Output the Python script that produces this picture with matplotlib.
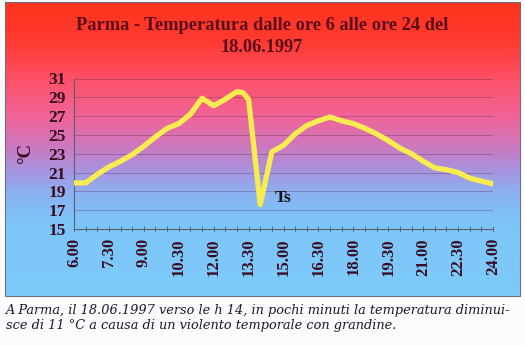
import numpy as np
import matplotlib
matplotlib.use("Agg")
import matplotlib.pyplot as plt
from matplotlib.colors import LinearSegmentedColormap
from matplotlib.patches import Rectangle

# Temperature readings in Parma, 18.06.1997 (hour of day, degrees C)
hours = [6.0, 6.5, 7.0, 7.5, 8.0, 8.5, 9.0, 9.5, 10.0, 10.5, 11.0, 11.5,
         12.0, 12.5, 13.0, 13.25, 13.5, 14.0, 14.5, 15.0, 15.5, 16.0, 16.5,
         17.0, 17.5, 18.0, 18.5, 19.0, 19.5, 20.0, 20.5, 21.0, 21.5, 22.0,
         22.5, 23.0, 23.5, 24.0]
temps = [19.9, 19.9, 20.8, 21.6, 22.2, 22.9, 23.8, 24.8, 25.7, 26.2, 27.2, 28.9,
         28.1, 28.8, 29.6, 29.5, 28.8, 17.6, 23.2, 23.9, 25.1, 26.0, 26.5,
         26.9, 26.5, 26.2, 25.7, 25.1, 24.4, 23.6, 23.0, 22.2, 21.5, 21.3,
         21.0, 20.4, 20.1, 19.8]

x_tick_pos = [6.0, 7.5, 9.0, 10.5, 12.0, 13.5, 15.0, 16.5, 18.0, 19.5, 21.0, 22.5, 24.0]
x_tick_labels = ["6.00", "7.30", "9.00", "10.30", "12.00", "13.30", "15.00",
                 "16.30", "18.00", "19.30", "21.00", "22.30", "24.00"]
y_ticks = [15, 17, 19, 21, 23, 25, 27, 29, 31]

title = "Parma - Temperatura dalle ore 6 alle ore 24 del\n18.06.1997"
caption = ("A Parma, il 18.06.1997 verso le h 14, in pochi minuti la temperatura diminui-\n"
           "sce di 11 °C a causa di un violento temporale con grandine.")
low_label = "Ts"

W, H = 525, 345
fig = plt.figure(figsize=(W / 100, H / 100), dpi=100)
fig.patch.set_facecolor("#fbfbfb")

# Gradient panel behind the chart
px0, py0, px1, py1 = 5, 2, 520, 296
bg = fig.add_axes([px0 / W, 1 - py1 / H, (px1 - px0) / W, (py1 - py0) / H])
stops = [
    (0.00, (255, 52, 30)),
    (0.13, (255, 58, 48)),
    (0.27, (252, 82, 108)),
    (0.39, (240, 100, 152)),
    (0.49, (205, 120, 190)),
    (0.58, (165, 150, 225)),
    (0.66, (137, 180, 242)),
    (0.75, (124, 197, 248)),
    (1.00, (126, 203, 250)),
]
cmap = LinearSegmentedColormap.from_list(
    "panel", [(p, tuple(c / 255 for c in rgb)) for p, rgb in stops])
grad = np.linspace(0, 1, 300).reshape(-1, 1)
bg.imshow(grad, aspect="auto", cmap=cmap, extent=[0, 1, 1, 0])
bg.set_xlim(0, 1)
bg.set_ylim(1, 0)
bg.axis("off")
fig.patches.append(Rectangle((px0 / W, 1 - py1 / H), (px1 - px0) / W, (py1 - py0) / H,
                             transform=fig.transFigure, fill=False,
                             edgecolor="#6a7080", linewidth=0.8, zorder=5))

# Main plot
ax = fig.add_axes([74 / W, 1 - 229 / H, (493 - 74) / W, (229 - 78.5) / H])
ax.patch.set_alpha(0)
ax.set_xlim(6, 24)
ax.set_ylim(15, 31)

for v in y_ticks[1:]:
    ax.axhline(v, color="#5a3050", linewidth=0.5, alpha=0.5, zorder=1)

ax.plot(hours, temps, color="#f8ec50", linewidth=3.8, solid_joinstyle="round",
        solid_capstyle="round", zorder=3)

ax.text(14.6, 18.3, low_label, fontsize=12.5, fontweight="bold",
        family="Liberation Serif", color="#111111", va="center", ha="left")

for s in ["top", "right"]:
    ax.spines[s].set_visible(False)
for s in ["left", "bottom"]:
    ax.spines[s].set_color("#5a6070")
    ax.spines[s].set_linewidth(0.8)

tick_col = "#3a0c22"
ax.set_yticks(y_ticks)
ax.set_yticklabels([str(v) for v in y_ticks], fontsize=12.5, fontweight="bold",
                   family="Liberation Serif", color=tick_col)
ax.set_xticks(x_tick_pos)
ax.set_xticklabels(x_tick_labels, rotation=90, fontsize=12, fontweight="bold",
                   family="Liberation Serif", color=tick_col)
ax.set_xticks(np.arange(6, 24.01, 0.5), minor=True)
ax.tick_params(axis="x", which="both", direction="inout", length=5, width=0.6,
               color="#5a6070", pad=4)
ax.tick_params(axis="y", length=0, pad=6)

ax.set_ylabel("°C", fontsize=13.5, fontweight="bold", family="Liberation Serif",
              color=tick_col, labelpad=10)

fig.text(262 / W, 1 - 36.5 / H, title, ha="center", va="center", fontsize=13.2,
         fontweight="bold", family="Liberation Serif", color="#5a0c1c",
         linespacing=1.45)

fig.text(6 / W, 1 - 318 / H, caption, ha="left", va="center", fontsize=9.3,
         style="italic", family="DejaVu Serif", color="#1a1a30", linespacing=1.25)

fig.savefig("out.png", dpi=100, facecolor=fig.get_facecolor())
